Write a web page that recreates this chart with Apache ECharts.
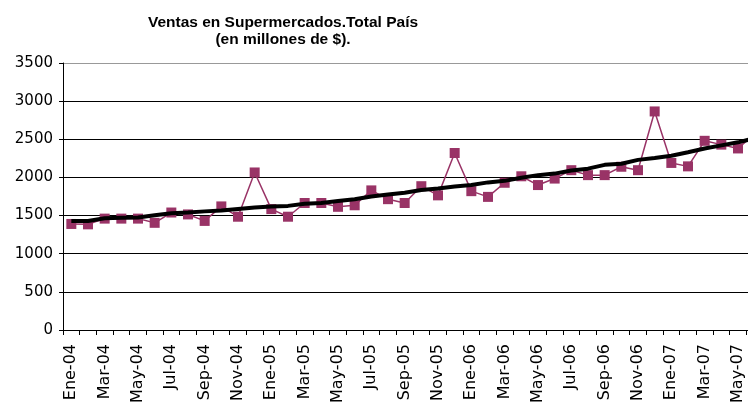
<!DOCTYPE html>
<html lang="es">
<head>
    <meta charset="UTF-8">
    <title>Ventas en Supermercados</title>
    <style>
        html,body{margin:0;padding:0;background:#fff;}
        #main{
            width: 748px;
            height: 406px;
        }
    </style>
</head>
<body>
<div id="main"></div>
<script src="https://cdn.jsdelivr.net/npm/echarts@6/dist/echarts.min.js"></script>
<script>
    const meses = [
        'Ene-04','Feb-04','Mar-04','Abr-04','May-04','Jun-04','Jul-04','Ago-04','Sep-04','Oct-04','Nov-04','Dic-04',
        'Ene-05','Feb-05','Mar-05','Abr-05','May-05','Jun-05','Jul-05','Ago-05','Sep-05','Oct-05','Nov-05','Dic-05',
        'Ene-06','Feb-06','Mar-06','Abr-06','May-06','Jun-06','Jul-06','Ago-06','Sep-06','Oct-06','Nov-06','Dic-06',
        'Ene-07','Feb-07','Mar-07','Abr-07','May-07','Jun-07'
    ];
    // ventas mensuales
    const ventas = [
        1390,1385,1460,1460,1460,1405,1540,1515,1430,1620,1485,2065,
        1585,1485,1665,1665,1615,1635,1830,1715,1665,1885,1765,2320,
        1820,1745,1930,2015,1900,1985,2095,2030,2030,2140,2095,2865,
        2190,2145,2480,2430,2380,2570
    ];
    // tendencia
    const tendencia = [
        1430,1430,1465,1470,1475,1505,1530,1540,1555,1565,1585,1605,
        1620,1627,1655,1665,1690,1715,1750,1775,1800,1835,1855,1880,
        1900,1935,1955,1995,2030,2050,2090,2115,2165,2180,2230,2255,
        2285,2330,2380,2420,2460,2515
    ];

    const myChart = echarts.init(document.getElementById('main'));
    const option = {
        animation: false,
        title: {
            text: 'Ventas en Supermercados.Total País\n(en millones de $).',
            left: 278,
            top: 9,
            textAlign: 'center',
            textStyle: {
                fontFamily: '"Liberation Sans", Arial, sans-serif',
                fontSize: 15.5,
                fontWeight: 'bold',
                lineHeight: 17,
                color: '#000'
            }
        },
        grid: {left: 63, top: 63, width: 700, height: 267, outerBoundsMode: 'none', containLabel: false},
        xAxis: {
            type: 'category',
            data: meses,
            boundaryGap: true,
            axisLine: {lineStyle: {color: '#000', width: 1}},
            axisTick: {show: true, interval: 0, length: 5, lineStyle: {color: '#000'}},
            axisLabel: {
                interval: 1,
                rotate: 90,
                margin: 14,
                fontFamily: 'DejaVu Sans',
                fontSize: 16,
                color: '#000'
            }
        },
        yAxis: {
            type: 'value',
            min: 0,
            max: 3500,
            interval: 500,
            axisLine: {show: true, lineStyle: {color: '#000', width: 1}},
            axisTick: {show: true, length: 4, lineStyle: {color: '#000'}},
            axisLabel: {
                margin: 10,
                fontFamily: 'DejaVu Sans',
                fontSize: 15,
                color: '#000',
                formatter: v => String(v)
            },
            splitLine: {
                lineStyle: {
                    color: ['#000','#000','#000','#000','#000','#000','#000','#999'],
                    width: 1
                }
            }
        },
        series: [
            {
                type: 'line',
                data: ventas,
                symbol: 'rect',
                symbolSize: 10,
                lineStyle: {color: '#993366', width: 1.5},
                itemStyle: {color: '#993366'},
                z: 2
            },
            {
                type: 'line',
                data: tendencia,
                symbol: 'none',
                lineStyle: {color: '#000', width: 4},
                z: 3
            }
        ]
    };
    myChart.setOption(option);
</script>
</body>
</html>
